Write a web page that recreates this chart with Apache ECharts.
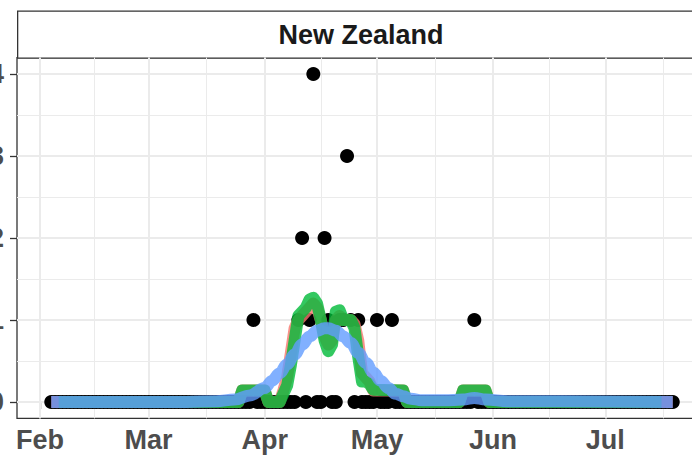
<!DOCTYPE html>
<html><head><meta charset="utf-8">
<script src="https://cdn.jsdelivr.net/npm/echarts@6/dist/echarts.min.js"></script>
<style>html,body{margin:0;padding:0;background:#fff}#c{width:692px;height:455px}</style>
</head><body><div id="c"></div>
<script>
const panelTitle = 'New Zealand';

// Daily deaths (black points), one value per day, starting 2020-02-04
const dailyStart = '2020-02-04';
const deathsFeb = [0,0,0,0,0,0,0,0,0,0, 0,0,0,0,0,0,0,0,0,0, 0,0,0,0,0,0]; // Feb 4 - Feb 29
const deathsMar = [0,0,0,0,0,0,0,0,0,0, 0,0,0,0,0,0,0,0,0,0, 0,0,0,0,0,0,0,0,1,0, 0];
const deathsApr = [0,0,0,0,0,0,0,0,0,1, 2,0,1,4,0,0,2,1,0,0, 1,1,3,1,0,1,0,0,0,0];
const deathsMay = [1,0,0,0,1,0,0,0,0,0, 0,0,0,0,0,0,0,0,0,0, 0,0,0,0,0,0,1,0,0,0, 0];
const deathsJun = [0,0,0,0,0,0,0,0,0,0, 0,0,0,0,0,0,0,0,0,0, 0,0,0,0,0,0,0,0,0,0];
const deathsJul = [0,0,0,0,0,0,0,0,0,0, 0,0,0,0,0,0,0,0,0]; // Jul 1 - Jul 19

// Red line
const redDates = ['2020-02-04','2020-03-25','2020-03-26','2020-04-01','2020-04-02','2020-04-05','2020-04-06','2020-04-07','2020-04-08','2020-04-09','2020-04-10','2020-04-11','2020-04-12','2020-04-13','2020-04-14','2020-04-15','2020-04-16','2020-04-17','2020-04-18','2020-04-19','2020-04-20','2020-04-21','2020-04-22','2020-04-23','2020-04-24','2020-04-25','2020-04-26','2020-04-27','2020-04-28','2020-04-29','2020-04-30','2020-05-08','2020-05-09','2020-05-23','2020-05-24','2020-05-30','2020-05-31','2020-07-19'];
const redValues = [0,0,0.14,0.14,0,0,0.14,0.3,0.6,0.9,1.0,1.05,1.1,1.15,1.2,1.15,1.0,0.8,0.7,0.75,1.0,1.05,1.0,1.0,1.0,0.95,0.75,0.35,0.3,0.25,0.14,0.14,0,0,0.14,0.14,0,0];

// Green line
const greenDates = ['2020-02-06','2020-03-25','2020-03-26','2020-04-01','2020-04-02','2020-04-05','2020-04-06','2020-04-07','2020-04-08','2020-04-09','2020-04-10','2020-04-11','2020-04-12','2020-04-13','2020-04-14','2020-04-15','2020-04-16','2020-04-17','2020-04-18','2020-04-19','2020-04-20','2020-04-21','2020-04-22','2020-04-23','2020-04-24','2020-04-25','2020-04-26','2020-04-27','2020-04-28','2020-04-29','2020-04-30','2020-05-08','2020-05-09','2020-05-23','2020-05-24','2020-05-30','2020-05-31','2020-07-16'];
const greenValues = [0,0,0.14,0.14,0,0,0.1,0.2,0.45,0.75,1.05,1.1,1.15,1.25,1.27,1.2,1.0,0.75,0.62,0.7,1.1,1.12,1.0,1.0,1.0,0.9,0.55,0.25,0.25,0.22,0.15,0.14,0,0,0.14,0.14,0,0];

// Blue smooth line
const blueDates = ['2020-02-04','2020-03-11','2020-03-19','2020-03-24','2020-03-28','2020-04-01','2020-04-03','2020-04-05','2020-04-07','2020-04-09','2020-04-11','2020-04-13','2020-04-15','2020-04-17','2020-04-18','2020-04-20','2020-04-22','2020-04-24','2020-04-26','2020-04-28','2020-04-30','2020-05-02','2020-05-04','2020-05-06','2020-05-08','2020-05-10','2020-05-13','2020-05-19','2020-05-24','2020-05-27','2020-05-30','2020-06-05','2020-07-19'];
const blueValues = [0,0,0.01,0.03,0.08,0.17,0.26,0.35,0.46,0.58,0.7,0.8,0.87,0.9,0.9,0.87,0.8,0.72,0.6,0.48,0.36,0.26,0.17,0.1,0.07,0.04,0.02,0.02,0.03,0.05,0.03,0.01,0];

// Axis ticks
const monthTickDates = ['2020-02-01','2020-03-01','2020-04-01','2020-05-01','2020-06-01','2020-07-01'];
const monthTickLabels = ['Feb','Mar','Apr','May','Jun','Jul'];
const monthMinorDates = ['2020-02-15 12','2020-03-16 12','2020-04-16 00','2020-05-16 12','2020-06-16 00','2020-07-16 12'];
const yTicks = [0,1,2,3,4];
const yMinorTicks = [0.5,1.5,2.5,3.5];

const DAY = 86400000;
function ts(s){
  const parts = s.split(' ');
  const d = parts[0].split('-').map(Number);
  const h = parts[1] ? Number(parts[1]) : 0;
  return Date.UTC(d[0], d[1]-1, d[2], h);
}
const allDeaths = [].concat(deathsFeb, deathsMar, deathsApr, deathsMay, deathsJun, deathsJul);
const startTs = ts(dailyStart);
const pointData = allDeaths.map((v,i)=>[startTs + i*DAY, v]);
const pair = (ds, vs) => ds.map((d,i)=>[ts(d), vs[i]]);

const monthTs = monthTickDates.map(ts);
const xMin = ts('2020-02-01') - 6.15*DAY;
const xMax = ts('2020-07-19') + 9.15*DAY;

const FONT = '"Liberation Sans", Arial, Helvetica, sans-serif';
const gridCol = '#EBEBEB';

const gridLines = [].concat(
  monthTs.map(v=>({xAxis:v, lineStyle:{width:2, color:gridCol, type:'solid'}})),
  monthMinorDates.map(d=>({xAxis:ts(d), lineStyle:{width:1, color:gridCol, type:'solid'}})),
  yTicks.map(v=>({yAxis:v, lineStyle:{width:2, color:gridCol, type:'solid'}})),
  yMinorTicks.map(v=>({yAxis:v, lineStyle:{width:1, color:gridCol, type:'solid'}}))
);

const chart = echarts.init(document.getElementById('c'), null, {renderer:'svg', width:692, height:455});
const lineCommon = {type:'line', symbol:'none', showSymbol:false, silent:true, animation:false};
chart.setOption({
  animation:false,
  graphic:[
    {type:'rect', left:17, top:10.5, shape:{width:700, height:47}, style:{fill:'#fff', stroke:'#333', lineWidth:1.3}, silent:true},
    {type:'text', x:361, y:35, style:{text:panelTitle, font:'bold 27px ' + FONT, fill:'#1A1A1A', align:'center', verticalAlign:'middle'}, silent:true}
  ],
  grid:{left:17, top:57.6, width:690, height:360.8, outerBoundsMode:'none', containLabel:false, show:true, borderColor:'#333', borderWidth:1.3, backgroundColor:'transparent'},
  xAxis:{type:'value', min:xMin, max:xMax,
    axisLine:{show:false},
    splitLine:{show:false},
    axisTick:{show:true, length:7, customValues:monthTs, lineStyle:{color:'#333', width:1.3}},
    axisLabel:{show:true, customValues:monthTs, margin:8, color:'#4D4D4D', fontSize:27, fontWeight:'bold', fontFamily:FONT, hideOverlap:false,
      formatter:(v)=>{ let best=0; for(let i=1;i<monthTs.length;i++){ if(Math.abs(monthTs[i]-v)<Math.abs(monthTs[best]-v)) best=i; } return monthTickLabels[best]; }}
  },
  yAxis:{type:'value', min:-0.2, max:4.2,
    axisLine:{show:false},
    splitLine:{show:false},
    axisTick:{show:true, length:7, customValues:yTicks, lineStyle:{color:'#333', width:1.3}},
    axisLabel:{show:true, customValues:yTicks, margin:13, color:'#4D4D4D', fontSize:27, fontWeight:'bold', fontFamily:FONT}
  },
  series:[
    {type:'line', data:[], z:1, silent:true, markLine:{z:1, silent:true, symbol:['none','none'], label:{show:false}, animation:false, data:gridLines}},
    {type:'scatter', data:pointData, symbolSize:14, itemStyle:{color:'#000', opacity:1}, z:2, silent:true},
    Object.assign({}, lineCommon, {data:pair(redDates, redValues), z:3, lineStyle:{color:'#F8766D', width:12, opacity:0.8, cap:'butt', join:'round'}}),
    Object.assign({}, lineCommon, {data:pair(greenDates, greenValues), z:3, lineStyle:{color:'#00BA38', width:12, opacity:0.8, cap:'butt', join:'round'}}),
    Object.assign({}, lineCommon, {data:pair(blueDates, blueValues), z:3, smooth:0.4, smoothMonotone:'x', lineStyle:{color:'#619CFF', width:12, opacity:0.8, cap:'butt', join:'round'}})
  ]
});
</script></body></html>
